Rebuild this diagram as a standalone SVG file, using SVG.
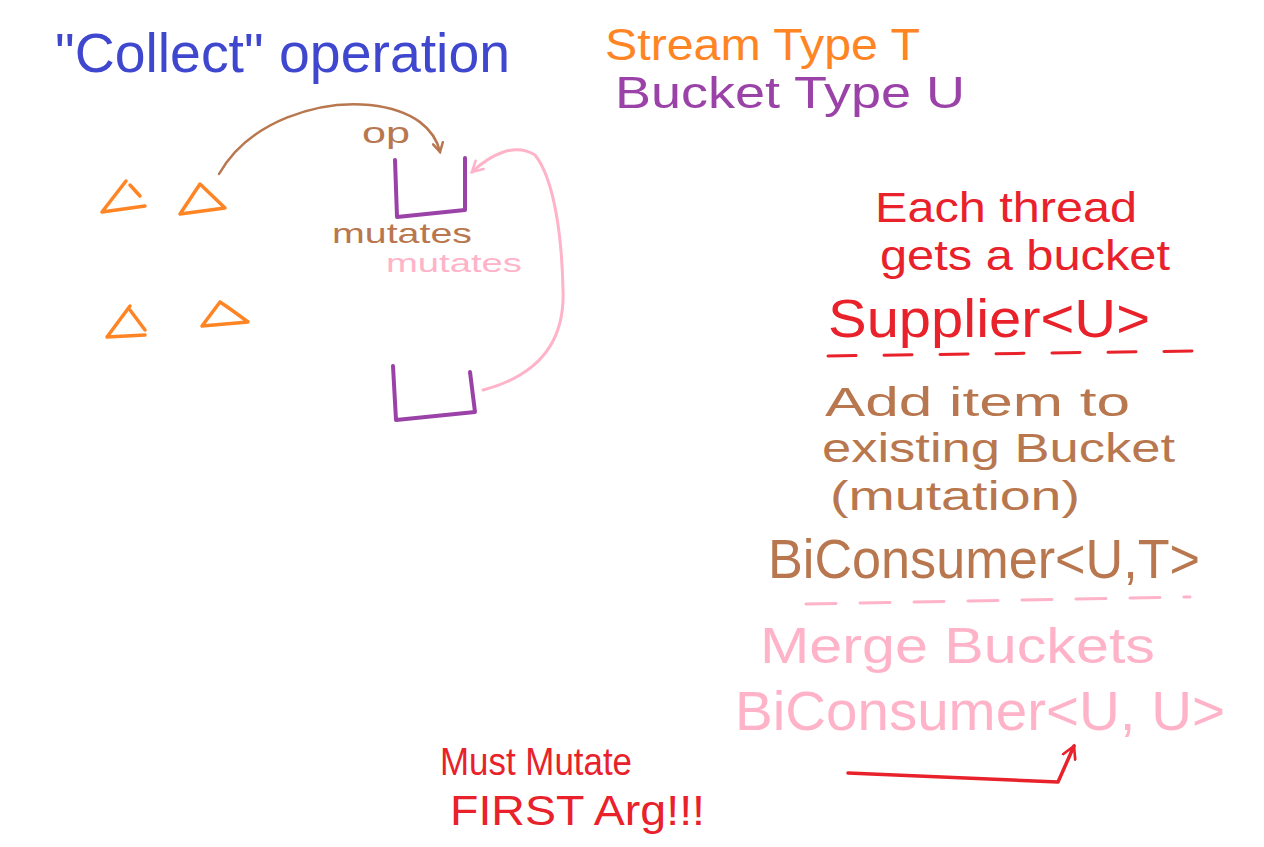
<svg xmlns="http://www.w3.org/2000/svg" width="1264" height="847" viewBox="0 0 1264 847">
<style>
text{font-family:"Liberation Sans","DejaVu Sans",sans-serif;}
.blue{fill:#3f47cf}
.orange{fill:#ff8424}
.purple{fill:#9b42a8}
.brown{fill:#b8774e}
.red{fill:#e8212a}
.pink{fill:#ffb3c9}
.ln{fill:none;stroke-linecap:round;stroke-linejoin:round}
.tri{fill:none;stroke:#ff8424;stroke-width:3.5;stroke-linecap:round;stroke-linejoin:round}
.bucket{fill:none;stroke:#9b42a8;stroke-width:4;stroke-linecap:round;stroke-linejoin:round}
</style>
<defs>
<marker id="ahBrown" viewBox="0 0 12 12" refX="10" refY="6" markerWidth="12" markerHeight="12" markerUnits="userSpaceOnUse" orient="auto"><path d="M1,1 L10,6 L1,11" fill="none" stroke="#b8774e" stroke-width="2.5" stroke-linecap="round"/></marker>
<marker id="ahPink" viewBox="0 0 12 12" refX="10" refY="6" markerWidth="14" markerHeight="14" markerUnits="userSpaceOnUse" orient="auto"><path d="M1,1 L10,6 L1,11" fill="none" stroke="#ffb3c9" stroke-width="2.2" stroke-linecap="round"/></marker>
<marker id="ahRed" viewBox="0 0 12 12" refX="10" refY="6" markerWidth="16" markerHeight="16" markerUnits="userSpaceOnUse" orient="auto"><path d="M1,1 L10,6 L1,11" fill="none" stroke="#e8212a" stroke-width="2" stroke-linecap="round"/></marker>
</defs>
<rect width="1264" height="847" fill="#ffffff"/>

<g id="title">
<text class="blue" x="55" y="72" font-size="56" textLength="455" lengthAdjust="spacingAndGlyphs">"Collect" operation</text>
</g>
<g id="types">
<text class="orange" x="605" y="60" font-size="44" textLength="315" lengthAdjust="spacingAndGlyphs">Stream Type T</text>
<text class="purple" x="615" y="108" font-size="44" textLength="350" lengthAdjust="spacingAndGlyphs">Bucket Type U</text>
</g>

<g id="triangles">
<path class="tri" d="M126,181 L102,212 L145,206 M130,185 L140,196"/>
<path class="tri" d="M200,184 L180,214 L225,208 Z"/>
<path class="tri" d="M130,306 L107,337 L145,335 M130,310 L145,330"/>
<path class="tri" d="M220,302 L202,326 L248,322 Q232,310 220,302"/>
</g>

<g id="bucket-top">
<path class="bucket" d="M395,160 L397,217 L465,210 L465,158"/>
</g>
<g id="bucket-bottom">
<path class="bucket" d="M393,366 L396,420 L475,412 L470,372"/>
</g>

<g id="labels-left">
<text class="brown" x="362" y="143" font-size="30" textLength="48" lengthAdjust="spacingAndGlyphs">op</text>
<text class="brown" x="332" y="243" font-size="28" textLength="140" lengthAdjust="spacingAndGlyphs">mutates</text>
<text class="pink" x="386" y="272" font-size="26" textLength="136" lengthAdjust="spacingAndGlyphs">mutates</text>
</g>

<g id="connectors">
<path class="ln" stroke="#b8774e" stroke-width="2.5" d="M219,174 C250,120 320,100 370,105 C415,110 435,130 440,152" marker-end="url(#ahBrown)"/>
<path class="ln" stroke="#ffb3c9" stroke-width="3" d="M483,390 C540,375 565,340 563,290 C562,240 555,180 535,155 C515,142 490,155 472,172" marker-end="url(#ahPink)"/>
<path class="ln" stroke="#e8212a" stroke-width="3.5" d="M848,773 L1058,782 L1074,746" marker-end="url(#ahRed)"/>
</g>

<g id="supplier">
<text class="red" x="875" y="222" font-size="42" textLength="262" lengthAdjust="spacingAndGlyphs">Each thread</text>
<text class="red" x="880" y="270" font-size="42" textLength="290" lengthAdjust="spacingAndGlyphs">gets a bucket</text>
<text class="red" x="828" y="337" font-size="54" textLength="322" lengthAdjust="spacingAndGlyphs">Supplier&lt;U&gt;</text>
<path class="ln" stroke="#e8212a" stroke-width="3" stroke-dasharray="28 28" d="M828,356 L1192,351"/>
</g>

<g id="accumulator">
<text class="brown" x="825" y="416" font-size="40" textLength="305" lengthAdjust="spacingAndGlyphs">Add item to</text>
<text class="brown" x="822" y="462" font-size="40" textLength="353" lengthAdjust="spacingAndGlyphs">existing Bucket</text>
<text class="brown" x="830" y="510" font-size="40" textLength="250" lengthAdjust="spacingAndGlyphs">(mutation)</text>
<text class="brown" x="768" y="578" font-size="56" textLength="432" lengthAdjust="spacingAndGlyphs">BiConsumer&lt;U,T&gt;</text>
<path class="ln" stroke="#ffb3c9" stroke-width="3" stroke-dasharray="30 24" d="M806,604 L1190,597"/>
</g>

<g id="combiner">
<text class="pink" x="760" y="663" font-size="50" textLength="395" lengthAdjust="spacingAndGlyphs">Merge Buckets</text>
<text class="pink" x="735" y="730" font-size="56" textLength="490" lengthAdjust="spacingAndGlyphs">BiConsumer&lt;U, U&gt;</text>
</g>

<g id="warning">
<text class="red" x="440" y="775" font-size="38" textLength="192" lengthAdjust="spacingAndGlyphs">Must Mutate</text>
<text class="red" x="450" y="825" font-size="42" textLength="255" lengthAdjust="spacingAndGlyphs">FIRST Arg!!!</text>
</g>
</svg>
